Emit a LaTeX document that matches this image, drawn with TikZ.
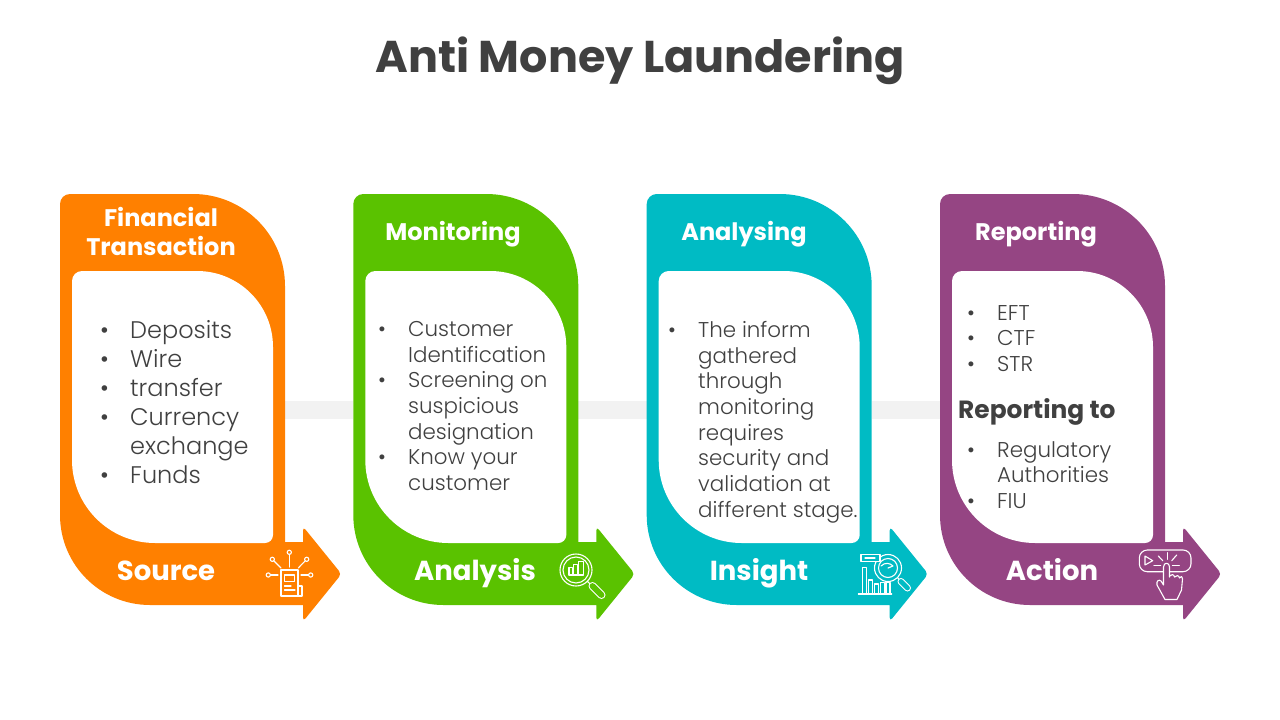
\documentclass[tikz,border=0pt]{standalone}
\usepackage{fontspec}
\setmainfont{Poppins}
\newfontfamily\lightfont{Poppins Light}
\definecolor{ink}{HTML}{404040}
\definecolor{cOrange}{HTML}{FF8000}
\definecolor{cGreen}{HTML}{5AC200}
\definecolor{cTeal}{HTML}{00BBC4}
\definecolor{cPurple}{HTML}{954583}
\definecolor{cBar}{HTML}{F2F2F2}
\tikzset{
  px/.style={x=1pt,y=-1pt},
  titletext/.style={text=ink,anchor=base,font=\fontsize{44.5}{50}\selectfont\bfseries,inner sep=0},
  headtext/.style={text=white,align=center,font=\fontsize{24}{29}\selectfont\bfseries,inner sep=0},
  headline/.style={headtext,anchor=base},
  foottext/.style={text=white,anchor=base,font=\fontsize{27.5}{32}\selectfont\bfseries,inner sep=0},
  biglist/.style={text=ink,align=left,anchor=north west,inner sep=0,font=\lightfont\fontsize{24}{28.9}\selectfont},
  smalllist/.style={text=ink,align=left,anchor=north west,inner sep=0,font=\lightfont\fontsize{21.4}{25.7}\selectfont},
  subhead/.style={text=ink,anchor=base west,inner sep=0,font=\fontsize{24.9}{28}\selectfont\bfseries},
  icon/.style={draw=white,line width=1.1pt,line cap=round,line join=round},
}
\newcommand{\bl}{\makebox[30pt][l]{•}}
\newcommand{\nb}{\hspace*{30pt}}
\newcommand{\stagepanel}[2]{%
  \begin{scope}[xshift=#1pt]
    \fill[#2] (60,204) .. controls (60,198.5) and (64.5,194) .. (70,194)
      -- (193,194) .. controls (243.8,194) and (285,235.2) .. (285,286)
      -- (285,542) -- (303,542)
      [rounded corners=4pt] -- (303,526.5) -- (341.5,574) -- (303,621.5) [sharp corners] -- (303,605)
      -- (150,605) .. controls (100.3,605) and (60,564.7) .. (60,515) -- cycle;
    \fill[white] (72,281) .. controls (72,275.5) and (76.5,271) .. (82,271)
      -- (197,271) .. controls (239,271) and (273,305) .. (273,347)
      -- (273,535) .. controls (273,539.4) and (269.4,543) .. (265,543)
      -- (155,543) .. controls (109.2,543) and (72,505.8) .. (72,460) -- cycle;
  \end{scope}}
\begin{document}
\begin{tikzpicture}[px]
\useasboundingbox (0,0) rectangle (1280,720);
% connecting bands
\fill[cBar] (285,401) rectangle (353,419);
\fill[cBar] (578,401) rectangle (647,419);
\fill[cBar] (872,401) rectangle (940,419);
% panels
\stagepanel{0}{cOrange}
\stagepanel{293.3}{cGreen}
\stagepanel{586.7}{cTeal}
\stagepanel{880}{cPurple}
% title
\node[titletext] (title) at (640,72.5) {Anti Money Laundering};
% headers
\node[headtext] (h1) at (161,231) {Financial\\Transaction};
\node[headline] (h2) at (453,240) {Monitoring};
\node[headline] (h3) at (744,240) {Analysing};
\node[headline] (h4) at (1036,240) {Reporting};
% footers
\node[foottext] (f1) at (166,580) {Source};
\node[foottext] (f2) at (475,580) {Analysis};
\node[foottext] (f3) at (759,580) {Insight};
\node[foottext] (f4) at (1052,580) {Action};
% lists
\node[biglist] (l1) at (100,320.5) {\bl Deposits\\\bl Wire\\\bl transfer\\\bl Currency\\\nb exchange\\\bl Funds};
\node[smalllist] (l2) at (378,321) {\bl Customer\\\nb Identification\\\bl Screening on\\\nb suspicious\\\nb designation\\\bl Know your\\\nb customer};
\node[smalllist] (l3) at (668,321) {\bl The inform\\\nb gathered\\\nb through\\\nb monitoring\\\nb requires\\\nb security and\\\nb validation at\\\nb different stage.};
\node[smalllist] (l4a) at (967,305) {\bl EFT\\\bl CTF\\\bl STR};
\node[subhead] (l4b) at (958,418) {Reporting to};
\node[smalllist] (l4c) at (967,441) {\bl Regulatory\\\nb Authorities\\\bl FIU};
% icon: source
\begin{scope}[icon]
  \draw (281,570) rectangle (298,596);
  \draw (298,586) -- (302,586) -- (302,596) -- (298,596);
  \draw (284.5,575) rectangle (294.5,581.5);
  \draw (284.5,586) -- (291,586) (284.5,590) -- (295,590);
  \draw (289.3,554.5) -- (289.3,567);
  \draw (273.8,560.8) -- (281,568);
  \draw (305.2,560.8) -- (298.3,568);
  \draw (270.5,575) -- (278,575);
  \draw (308.5,575) -- (301,575);
  \draw (289.3,552.3) circle (2.1);
  \draw (272.3,559.3) circle (2.1);
  \draw (306.7,559.3) circle (2.1);
  \draw (268.3,575) circle (2.1);
  \draw (310.7,575) circle (2.1);
\end{scope}
% icon: analysis
\begin{scope}[icon]
  \draw (576,570) circle (16);
  \draw (576,570) circle (13);
  \draw (569,575) -- (569,567.7) -- (572.7,567.7) -- (572.7,575);
  \draw (573.3,575) -- (573.3,564.3) -- (577.3,564.3) -- (577.3,575);
  \draw (578.7,575) -- (578.7,561.7) -- (583.3,561.7) -- (583.3,575);
  \draw (569,575) -- (583.3,575);
  \draw (587.5,581.5) -- (592.5,586.2);
  \draw[line width=8pt] (592.5,586) -- (601.5,595);
  \draw[draw=cGreen,line width=5.8pt] (592.5,586) -- (601.5,595);
\end{scope}
% icon: insight
\begin{scope}[icon]
  \draw (888,568) circle (13.5);
  \draw (888,568) circle (9.5);
  \draw (881,566) .. controls (885,562) and (890,563) .. (893,566) -- (888,568);
  \fill[cTeal] (861,554.3) rectangle (880,561.7);
  \draw (861,554.3) rectangle (880,561.7);
  \draw (865,558) -- (875,558);
  \draw (862.3,594) -- (862.3,567.7) -- (866.7,567.7) -- (866.7,594);
  \draw (868.5,594) -- (868.5,580) -- (872.5,580) -- (872.5,594);
  \draw (874.5,594) -- (874.5,584) -- (878.5,584) -- (878.5,594);
  \draw (880.5,594) -- (880.5,582.5) -- (884.5,582.5) -- (884.5,594);
  \draw (886,594) -- (886,582.5) -- (890,582.5) -- (890,594);
  \draw (858.3,594) -- (891.7,594);
  \draw (897.8,578) -- (900,580);
  \draw[line width=7pt] (901,581.5) -- (907.5,588);
  \draw[draw=cTeal,line width=4.8pt] (901,581.5) -- (907.5,588);
\end{scope}
% icon: action
\begin{scope}[icon]
  \draw[rounded corners=8pt] (1139.3,550) rectangle (1191,571.7);
  \draw (1145,556) -- (1152.7,560.7) -- (1145,565) -- cycle;
  \draw (1154,565.7) -- (1160.7,565.7);
  \draw (1158.3,556) -- (1162.7,560.7);
  \draw (1167.3,552.7) -- (1167.3,559.3);
  \draw (1176.7,555) -- (1171.7,560.7);
  \draw (1172.3,565.7) -- (1179.3,565.7);
  \draw[fill=cPurple] (1163.5,585) -- (1163.5,567) .. controls (1163.5,562) and (1169.5,562) .. (1169.5,567)
    -- (1169.5,577) -- (1169.5,576) .. controls (1171,574) and (1174,574) .. (1174.5,577)
    .. controls (1176,575) and (1179,575) .. (1179.5,578)
    .. controls (1181,576) and (1182,576) .. (1182.5,579)
    -- (1181.5,590) -- (1177,599.5) -- (1165,599.5) -- (1157,585)
    .. controls (1156,581) and (1159,579) .. (1161,581) -- cycle;
\end{scope}
\end{tikzpicture}
\end{document}
